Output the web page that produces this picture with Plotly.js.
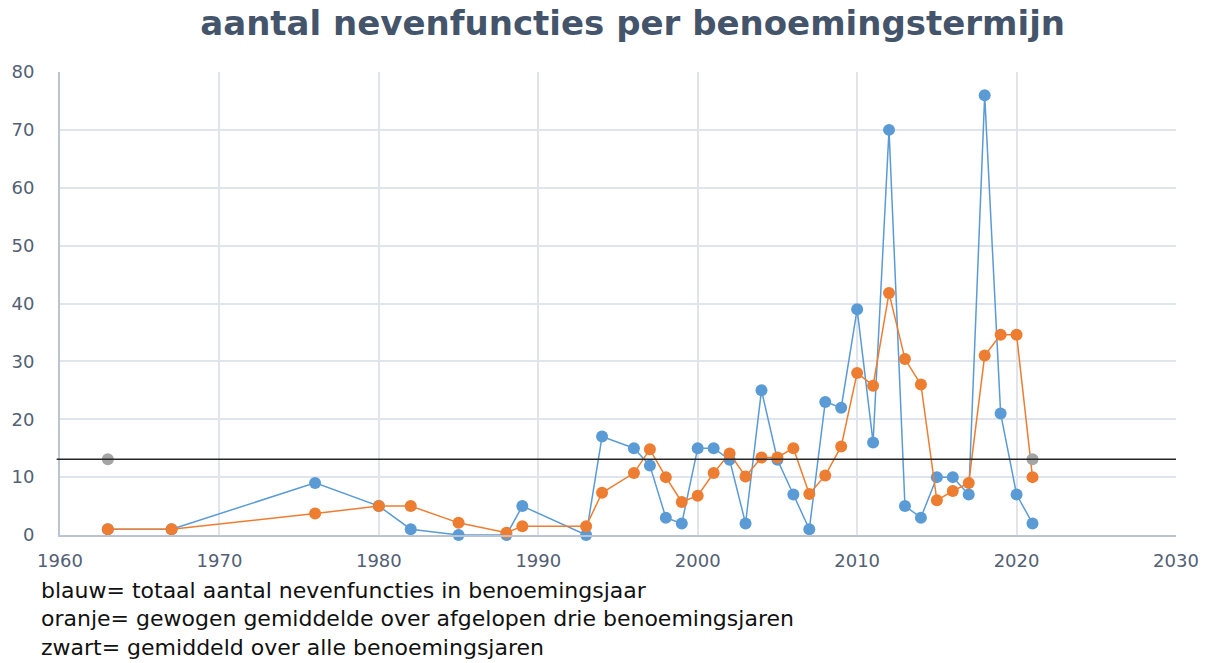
<!DOCTYPE html>
<html>
<head>
<meta charset="utf-8">
<script src="https://cdn.plot.ly/plotly-3.0.1.min.js"></script>
<style>html,body{margin:0;padding:0;background:#fff;}#chart{width:1212px;height:663px;}</style>
</head>
<body>
<div id="chart"></div>
<script>
const years = [1963,1967,1976,1980,1982,1985,1988,1989,1993,1994,1996,1997,1998,1999,2000,2001,2002,2003,2004,2005,2006,2007,2008,2009,2010,2011,2012,2013,2014,2015,2016,2017,2018,2019,2020,2021];
const blauw = [1,1,9,5,1,0,0,5,0,17,15,12,3,2,15,15,13,2,25,13,7,1,23,22,39,16,70,5,3,10,10,7,76,21,7,2];
const oranje = [1,1,3.7,5,5,2.1,0.4,1.5,1.5,7.3,10.7,14.8,10,5.7,6.8,10.7,14.1,10.1,13.4,13.4,15,7.1,10.3,15.3,28,25.8,41.8,30.4,26,6,7.6,9,31,34.6,34.6,10];
const grijsJaren = [1963, 2021];
const gemiddelde = 13.1;
const grijs = [gemiddelde, gemiddelde];
const xTicks = [1960,1970,1980,1990,2000,2010,2020,2030];
const yTicks = [0,10,20,30,40,50,60,70,80];
const titel = "aantal nevenfuncties per benoemingstermijn";
const notities = [
  "blauw= totaal aantal nevenfuncties in benoemingsjaar",
  "oranje= gewogen gemiddelde over afgelopen drie benoemingsjaren",
  "zwart= gemiddeld over alle benoemingsjaren"
];

const traces = [
  {x: years, y: blauw, type: 'scatter', mode: 'lines+markers',
   line: {color: '#5b9bd5', width: 1.5}, marker: {color: '#5b9bd5', size: 12}, cliponaxis: false},
  {x: years, y: oranje, type: 'scatter', mode: 'lines+markers',
   line: {color: '#ed7d31', width: 1.5}, marker: {color: '#ed7d31', size: 12}, cliponaxis: false},
  {x: grijsJaren, y: grijs, type: 'scatter', mode: 'markers',
   marker: {color: '#a5a5a5', size: 12}, cliponaxis: false}
];

const noteY = [-0.1188, -0.1814, -0.244];
const annotations = notities.map((t, i) => ({
  text: t, xref: 'paper', yref: 'paper', x: -0.0188, y: noteY[i],
  xanchor: 'left', yanchor: 'middle', showarrow: false,
  font: {family: 'DejaVu Sans', size: 22, color: '#111'}
}));

const tickFont = {family: 'DejaVu Sans', size: 18, color: '#536074'};

const layout = {
  width: 1212, height: 663,
  margin: {l: 60, r: 36, t: 72, b: 128},
  paper_bgcolor: '#fff', plot_bgcolor: '#fff',
  showlegend: false,
  title: {text: '<b>' + titel + '</b>', x: 0.522, xanchor: 'center', y: 0.965, yanchor: 'middle',
          font: {family: 'DejaVu Sans', size: 34, color: '#44546a'}},
  xaxis: {range: [1960, 2030], tickvals: xTicks, ticktext: xTicks.map(String),
          showgrid: true, gridcolor: '#e0e4eb', gridwidth: 2,
          showline: true, linecolor: '#bcc4d2', linewidth: 2, zeroline: false,
          ticks: '', ticklabelstandoff: 8, tickfont: tickFont},
  yaxis: {range: [0, 80], tickvals: yTicks, ticktext: yTicks.map(String),
          showgrid: true, gridcolor: '#e0e4eb', gridwidth: 2,
          showline: true, linecolor: '#bcc4d2', linewidth: 2, zeroline: false,
          ticks: '', ticklabelstandoff: 20, tickfont: tickFont},
  shapes: [{type: 'line', xref: 'paper', yref: 'y', x0: -0.003, x1: 1, y0: gemiddelde, y1: gemiddelde,
            line: {color: '#262626', width: 1.5}, layer: 'above'}],
  annotations: annotations
};

Plotly.newPlot('chart', traces, layout, {displayModeBar: false, staticPlot: true});
</script>
</body>
</html>
